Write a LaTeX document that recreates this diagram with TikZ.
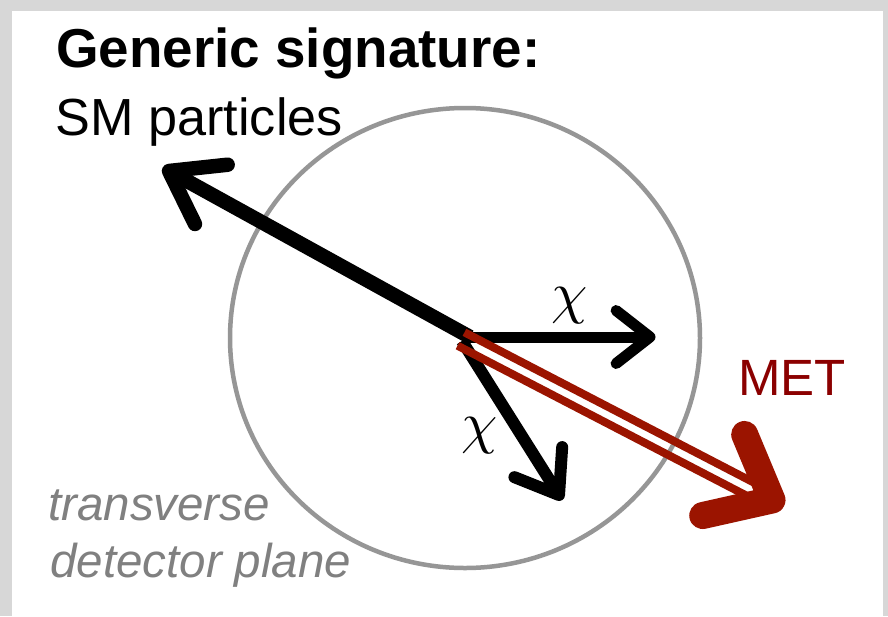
\documentclass[tikz,border=0pt]{standalone}
\usepackage{fontspec}
\usepackage{graphicx}
\setmainfont{Liberation Sans}
\usetikzlibrary{calc}
\definecolor{metred}{RGB}{155,20,0}
\definecolor{mettext}{RGB}{139,0,0}
\definecolor{circgray}{RGB}{150,150,150}
\definecolor{txtgray}{RGB}{128,128,128}
\definecolor{shadowgray}{RGB}{215,215,215}
\newcommand\barbhead[5]{%
  \draw[#5] ($(#1)!#3!#4:(#2)$) -- (#1) -- ($(#1)!#3!-#4:(#2)$);}
\begin{document}
\begin{tikzpicture}[x=1pt,y=-1pt,
  txt/.style={inner sep=0pt, anchor=base west},
  shaft/.style={line cap=butt},
  headline/.style={line cap=round, line join=round},
  chilabel/.style={inner sep=0pt}]
\useasboundingbox (0,0) rectangle (888,616);
\fill[shadowgray] (0,0) rectangle (888,616);
\fill[white] (12,11) rectangle (883,616);
% detector circle
\draw[circgray, line width=4.5pt] (465,338) ellipse [x radius=235pt, y radius=230pt];
% coordinates
\coordinate (smstart) at (470,337);
\coordinate (smtip) at (169,171);
\coordinate (c1start) at (466,337);
\coordinate (c1tip) at (650,337);
\coordinate (c2start) at (462,341);
\coordinate (c2tip) at (559,495);
\coordinate (metstart) at (461,339);
\coordinate (mettip) at (772,500);
\coordinate (metend) at (750,489);
% SM particles arrow
\draw[shaft, line width=14.5pt] (smstart) -- (smtip);
\barbhead{smtip}{smstart}{59pt}{35}{headline, line width=14.5pt}
% chi arrows
\draw[shaft, line width=11pt] (c1start) -- (c1tip);
\barbhead{c1tip}{c1start}{43pt}{38}{headline, line width=11pt}
\draw[shaft, line width=12pt] (c2start) -- (c2tip);
\barbhead{c2tip}{c2start}{48pt}{36}{headline, line width=12pt}
% MET double arrow
\draw[metred, line width=8pt] ($(metstart)!7.5pt!90:(metend)$) -- ($(metend)!7.5pt!-90:(metstart)$);
\draw[metred, line width=8pt] ($(metstart)!7.5pt!-90:(metend)$) -- ($(metend)!7.5pt!90:(metstart)$);
\barbhead{mettip}{metstart}{71pt}{40}{metred, headline, line width=27pt}
% labels
\node[txt, font=\fontsize{54.8}{60}\selectfont\bfseries] (title) at (56,67) {Generic signature:};
\node[txt, font=\fontsize{52.2}{60}\selectfont] (sm) at (55.5,135) {SM particles};
\node[txt, font=\fontsize{51}{60}\selectfont, text=mettext] (met) at (738,395) {MET};
\node[txt, font=\fontsize{47.5}{56}\selectfont\itshape, text=txtgray] (plane1) at (48,520) {transverse};
\node[txt, font=\fontsize{47.5}{56}\selectfont\itshape, text=txtgray] (plane2) at (50,577) {detector plane};
\node[chilabel] (chi1) at (570,306) {\scalebox{5.8}{$\chi$}};
\node[chilabel] (chi2) at (480,436) {\scalebox{5.8}{$\chi$}};
\end{tikzpicture}
\end{document}
